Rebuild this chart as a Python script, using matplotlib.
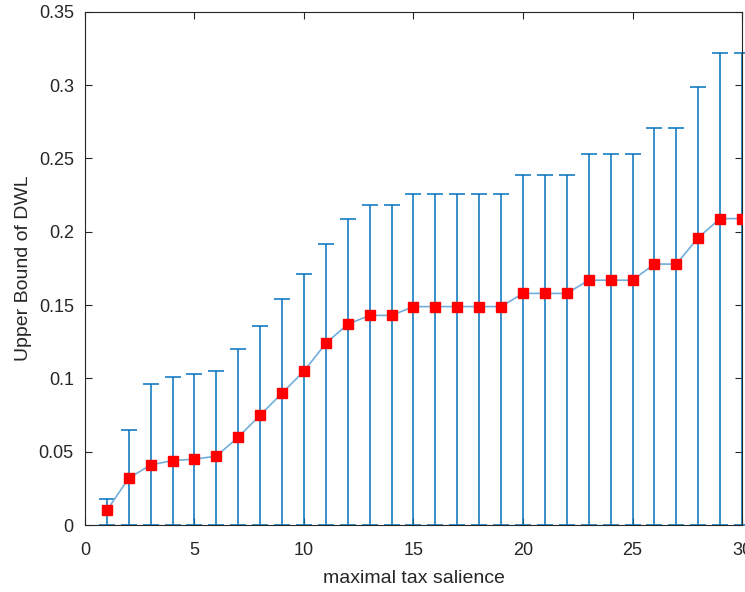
import numpy as np
import matplotlib.pyplot as plt

plt.rcParams['font.family'] = ['Liberation Sans', 'DejaVu Sans']

salience = np.arange(1, 31)
dwl_mean = [0.010, 0.032, 0.041, 0.044, 0.045, 0.047, 0.060, 0.075, 0.090, 0.105,
            0.124, 0.137, 0.143, 0.143, 0.149, 0.149, 0.149, 0.149, 0.149, 0.158,
            0.158, 0.158, 0.167, 0.167, 0.167, 0.178, 0.178, 0.196, 0.209, 0.209]
dwl_upper = [0.018, 0.065, 0.096, 0.101, 0.103, 0.105, 0.120, 0.136, 0.154, 0.171,
             0.192, 0.209, 0.218, 0.218, 0.226, 0.226, 0.226, 0.226, 0.226, 0.239,
             0.239, 0.239, 0.253, 0.253, 0.253, 0.271, 0.271, 0.299, 0.322, 0.322]
dwl_lower = [0.0] * 30

mean = np.array(dwl_mean)
err = [mean - np.array(dwl_lower), np.array(dwl_upper) - mean]

fig = plt.figure(figsize=(7.45, 5.92), dpi=100)
ax = fig.add_axes([0.114, 0.113, 0.882, 0.867])

eb = ax.errorbar(salience, mean, yerr=err, fmt='none', ecolor='#0072BD',
                 elinewidth=1.1, capsize=5.5, capthick=1.1)
for part in eb.lines[1] + eb.lines[2]:
    part.set_clip_on(False)
ax.plot(salience, mean, color='#72AEDB', lw=1.2, zorder=3)
ax.plot(salience, mean, 's', color='red', ms=6.5, zorder=4)

ax.set_xlim(0, 30)
ax.set_ylim(0, 0.35)
ax.set_xticks(np.arange(0, 31, 5))
ax.set_yticks(np.arange(0, 0.351, 0.05))
ax.set_yticklabels(['0', '0.05', '0.1', '0.15', '0.2', '0.25', '0.3', '0.35'])
ax.tick_params(direction='in', top=True, right=True, labelsize=13,
               colors='#262626', length=5, width=0.8)
ax.tick_params(axis='x', pad=12)
ax.tick_params(axis='y', pad=8)
for s in ax.spines.values():
    s.set_color('#262626')
    s.set_linewidth(0.8)

ax.set_xlabel('maximal tax salience', fontsize=14, color='#262626', labelpad=8)
ax.set_ylabel('Upper Bound of DWL', fontsize=14, color='#262626', labelpad=5)

fig.savefig('out.png', dpi=100)
